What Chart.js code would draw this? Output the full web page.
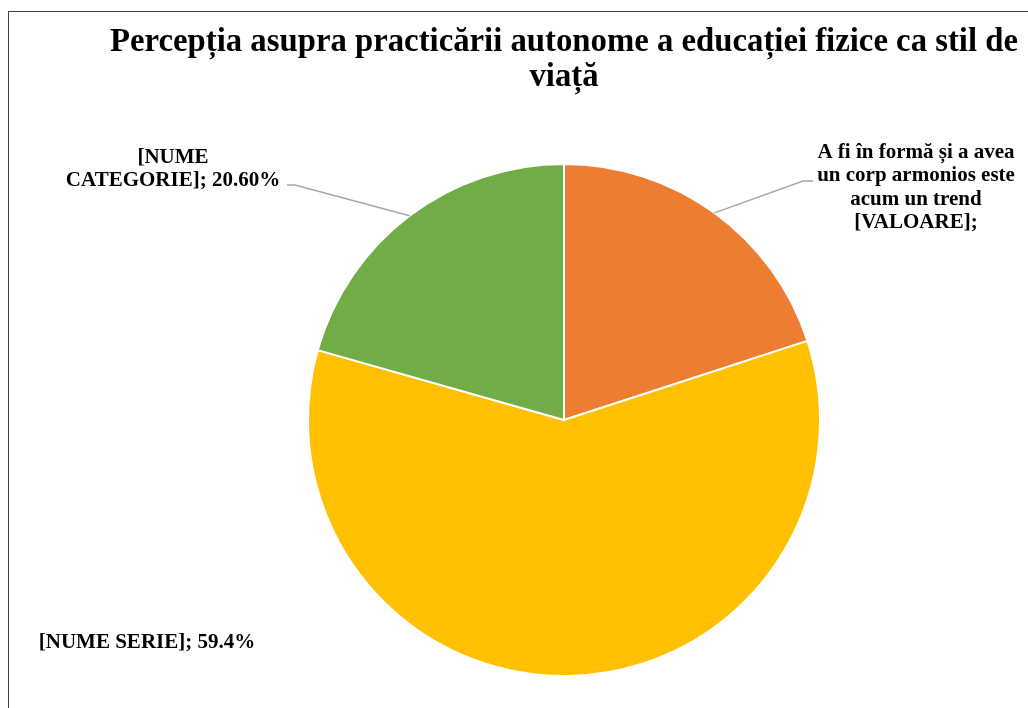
<!DOCTYPE html>
<html>
<head>
<meta charset="utf-8">
<script src="https://cdn.jsdelivr.net/npm/chart.js@4/dist/chart.umd.min.js"></script>
<style>
  html, body { margin: 0; padding: 0; background: #fff; }
  #wrap { width: 1028px; height: 708px; position: relative; }
</style>
</head>
<body>
<div id="wrap"><canvas id="pie" width="1028" height="708"></canvas></div>
<script>
const titleLines = ["Percepția asupra practicării autonome a educației fizice ca stil de", "viață"];
const categories = [
  "A fi în formă și a avea un corp armonios este acum un trend",
  "[NUME SERIE]",
  "[NUME CATEGORIE]",
];
const values = [20.0, 59.4, 20.6];
const sliceColors = ["#ED7D31", "#FFC000", "#70AD47"];
const labelLines = [
  ["A fi în formă și a avea", "un corp armonios este", "acum un trend", "[VALOARE];"],
  ["[NUME SERIE]; 59.4%"],
  ["[NUME", "CATEGORIE]; 20.60%"],
];

// where each data label sits (centre x, first baseline) and its leader elbow
const labelLayout = [
  { x: 916, y: 158, leader: [[803, 181], [813, 181]] },
  { x: 147, y: 648, leader: null },
  { x: 173, y: 163, leader: [[295, 185], [287, 185]] },
];

const SERIF = '"Liberation Serif", "Times New Roman", serif';

const labelsPlugin = {
  id: "excelLabels",
  afterDraw(chart) {
    const { ctx } = chart;
    ctx.save();

    // outer frame
    ctx.strokeStyle = "#404040";
    ctx.lineWidth = 1;
    ctx.strokeRect(8.5, 11.5, 1100, 800);

    // title, fitted to the reference width
    ctx.fillStyle = "#000";
    ctx.textAlign = "center";
    ctx.textBaseline = "alphabetic";
    ctx.font = `bold 30px ${SERIF}`;
    const w = ctx.measureText(titleLines[0]).width;
    const size = 30 * 908 / w;
    ctx.font = `bold ${size.toFixed(2)}px ${SERIF}`;
    ctx.fillText(titleLines[0], 564, 51);
    ctx.fillText(titleLines[1], 564, 86);

    // data labels + leader lines
    const meta = chart.getDatasetMeta(0);
    ctx.font = `bold 21px ${SERIF}`;
    labelLayout.forEach((lay, i) => {
      const arc = meta.data[i];
      if (lay.leader && arc) {
        const mid = (arc.startAngle + arc.endAngle) / 2;
        const sx = arc.x + Math.cos(mid) * arc.outerRadius;
        const sy = arc.y + Math.sin(mid) * arc.outerRadius;
        ctx.strokeStyle = "#A6A6A6";
        ctx.lineWidth = 1.5;
        ctx.beginPath();
        ctx.moveTo(sx, sy);
        lay.leader.forEach(([px, py]) => ctx.lineTo(px, py));
        ctx.stroke();
      }
      ctx.fillStyle = "#000";
      labelLines[i].forEach((line, j) => {
        ctx.fillText(line, lay.x, lay.y + j * 23.3);
      });
    });
    ctx.restore();
  },
};

new Chart(document.getElementById("pie"), {
  type: "pie",
  data: {
    labels: categories,
    datasets: [{
      data: values,
      backgroundColor: sliceColors,
      borderColor: "#ffffff",
      borderWidth: 2,
    }],
  },
  options: {
    responsive: false,
    animation: false,
    layout: { padding: { left: 307, right: 207, top: 163, bottom: 31 } },
    plugins: {
      legend: { display: false },
      tooltip: { enabled: false },
      title: { display: false },
    },
  },
  plugins: [labelsPlugin],
});
</script>
</body>
</html>
